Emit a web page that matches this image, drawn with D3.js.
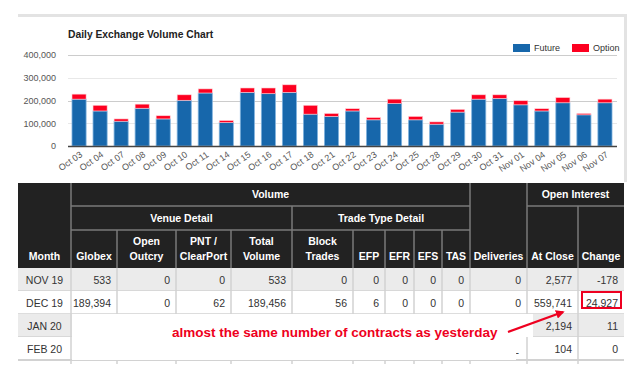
<!DOCTYPE html>
<html><head><meta charset="utf-8">
<script src="https://cdn.jsdelivr.net/npm/d3@7/dist/d3.min.js"></script>
<style>body{margin:0;background:#fff}svg{display:block;font-family:"Liberation Sans",Arial,sans-serif}</style>
</head><body><svg id="c" width="635" height="377"></svg>
<script>
const dates = ["Oct 03","Oct 04","Oct 07","Oct 08","Oct 09","Oct 10","Oct 11","Oct 14","Oct 15","Oct 16","Oct 17","Oct 18","Oct 21","Oct 22","Oct 23","Oct 24","Oct 25","Oct 28","Oct 29","Oct 30","Oct 31","Nov 01","Nov 04","Nov 05","Nov 06","Nov 07"];
const future = [206000,154000,109000,166000,119000,201000,233000,103000,236000,230000,236000,140000,130000,154000,115000,187000,115000,96000,149000,206000,209000,181000,154000,190000,137000,190000];
const option = [22000,25000,10000,18000,14000,24000,18000,9000,19000,25000,33000,39000,13000,10000,10000,19000,15000,10000,12000,19000,16000,18000,10000,23000,6000,16000];
const yTicks = [0,100000,200000,300000,400000];
const seriesNames = ["Future","Option"];
const chartTitle = "Daily Exchange Volume Chart";

const months = ["NOV 19","DEC 19","JAN 20","FEB 20"];
const globex = ["533","189,394","",""];
const openOutcry = ["0","0","",""];
const pntClearport = ["0","62","",""];
const totalVolume = ["533","189,456","",""];
const blockTrades = ["0","56","",""];
const efp = ["0","6","",""];
const efr = ["0","0","",""];
const efs = ["0","0","",""];
const tas = ["0","0","",""];
const deliveries = ["0","0","","-"];
const atClose = ["2,577","559,741","2,194","104"];
const oiChange = ["-178","24,927","11","0"];
const annotation = "almost the same number of contracts as yesterday";

const svg = d3.select("#c");
const BLUE="#1767ab", RED="#fd0020";

// frame
svg.append("rect").attr("x",18).attr("y",14).attr("width",609).attr("height",3).attr("fill","#e3e3e3");
svg.append("rect").attr("x",624).attr("y",14).attr("width",3).attr("height",168).attr("fill","#e3e3e3");

svg.append("text").attr("x",68).attr("y",38).attr("font-size",10.3).attr("font-weight","bold").attr("fill","#222").text(chartTitle);

const x = d3.scaleBand().domain(dates).range([68,616]).paddingInner(0.33).paddingOuter(0.19);
const y = d3.scaleLinear().domain([0,400000]).range([146,55]);

const g = svg.append("g");
yTicks.forEach(t=>{
  if(t===0) return;
  g.append("line").attr("x1",68).attr("x2",617).attr("y1",Math.round(y(t))+0.5).attr("y2",Math.round(y(t))+0.5)
   .attr("stroke", t%200000===0 ? "#cccccc" : "#e8e8e8");
});
const yAxis = d3.axisLeft(y).tickValues(yTicks).tickSize(0).tickPadding(6).tickFormat(d3.format(","));
const ya = svg.append("g").attr("transform","translate(62,0)").call(yAxis);
ya.select(".domain").remove();
ya.selectAll("text").attr("font-size",9).attr("fill","#555").attr("font-family","Liberation Sans, Arial");

const stack = dates.map((d,i)=>({d, f:future[i], o:option[i]}));
const bars = svg.append("g");
bars.selectAll(".f").data(stack).join("rect")
  .attr("x",d=>x(d.d)).attr("width",x.bandwidth())
  .attr("y",d=>y(d.f)).attr("height",d=>y(0)-y(d.f))
  .attr("fill",BLUE).attr("stroke","#7fb2de").attr("stroke-width",0.8);
bars.selectAll(".o").data(stack).join("rect")
  .attr("x",d=>x(d.d)).attr("width",x.bandwidth())
  .attr("y",d=>y(d.f+d.o)).attr("height",d=>y(d.f)-y(d.f+d.o))
  .attr("fill",RED).attr("stroke","#ffd0d6").attr("stroke-width",0.6);

svg.append("line").attr("x1",68).attr("x2",617).attr("y1",146.5).attr("y2",146.5).attr("stroke","#444").attr("stroke-width",1.5);

const xa = svg.append("g").attr("transform","translate(0,146)").call(d3.axisBottom(x).tickSize(0).tickPadding(0));
xa.select(".domain").remove();
xa.selectAll("text").attr("font-size",9).attr("fill","#555").attr("font-family","Liberation Sans, Arial")
  .attr("text-anchor","end").attr("dy",0).attr("y",0)
  .attr("transform","translate(4,10) rotate(-35)");

// legend
const lg = svg.append("g");
[[513,BLUE,seriesNames[0]],[572,RED,seriesNames[1]]].forEach(([lx,c,t])=>{
  lg.append("rect").attr("x",lx).attr("y",44).attr("width",17).attr("height",8).attr("fill",c);
  lg.append("text").attr("x",lx+21).attr("y",51).attr("font-size",9).attr("fill","#333").text(t);
});

// table
const cols = [18,71,117,176,231,292,353,385,414,442,470,527,578,624];
const tb = svg.append("g");
tb.append("rect").attr("x",18).attr("y",183).attr("width",606).attr("height",85).attr("fill","#222");
const hline=(x1,x2,yy,c,w)=>tb.append("line").attr("x1",x1).attr("x2",x2).attr("y1",yy).attr("y2",yy).attr("stroke",c).attr("stroke-width",w||1);
const vline=(xx,y1,y2,c,w)=>tb.append("line").attr("x1",xx).attr("x2",xx).attr("y1",y1).attr("y2",y2).attr("stroke",c).attr("stroke-width",w||1);
const HC="#7a7a7a";
hline(71,470,206,HC,1.5); hline(527,624,206,HC,1.5);
hline(71,470,230,HC,1.5);
vline(71,183,268,HC,1.5); vline(470,183,268,HC,1.5); vline(527,183,268,HC,1.5);
vline(292,206,268,HC,1.5); vline(578,206,268,HC,1.5);
[117,176,231,353,385,414,442].forEach(c=>vline(c,230,268,HC,1.5));
const ht=(t,cx,yy)=>tb.append("text").attr("x",cx).attr("y",yy).attr("text-anchor","middle").attr("font-size",10.5).attr("font-weight","bold").attr("fill","#fff").text(t);
const mid=(a,b)=>(cols[a]+cols[b])/2;
ht("Volume",mid(1,10),198);
ht("Open Interest",mid(11,13),198);
ht("Venue Detail",mid(1,5),222);
ht("Trade Type Detail",mid(5,10),222);
const h3=[["Month"],["Globex"],["Open","Outcry"],["PNT /","ClearPort"],["Total","Volume"],["Block","Trades"],["EFP"],["EFR"],["EFS"],["TAS"],["Deliveries"],["At Close"],["Change"]];
h3.forEach((ls,i)=>{
  const cx=mid(i,i+1);
  if(ls.length===1) ht(ls[0],cx,260);
  else { ht(ls[0],cx,245); ht(ls[1],cx,260); }
});

const rowsData = months.map((m,i)=>[m,globex[i],openOutcry[i],pntClearport[i],totalVolume[i],blockTrades[i],efp[i],efr[i],efs[i],tas[i],deliveries[i],atClose[i],oiChange[i]]);
const rowY=[268,291,314,337,360];
rowsData.forEach((r,ri)=>{
  const y0=rowY[ri], y1=rowY[ri+1];
  tb.append("rect").attr("x",18).attr("y",y0).attr("width",606).attr("height",y1-y0).attr("fill",ri%2===0?"#ebebeb":"#fff");
  cols.slice(1,-1).forEach(c=>vline(c,y0,y1,"#d2d2d2",1.5));
  hline(18,624,y1,"#d2d2d2",1.5);
  r.forEach((v,ci)=>{
    if(v==="") return;
    const t=tb.append("text").attr("y",y0+16).attr("font-size",10.5).attr("fill","#333").text(v);
    if(ci===0) t.attr("x",mid(0,1)).attr("text-anchor","middle");
    else t.attr("x",cols[ci+1]-6).attr("text-anchor","end");
    if(v==="-") t.attr("y",y0+19).attr("x",cols[ci+1]-8);
  });
});
// partial next row
hline(18,624,360,"#d2d2d2",2);
cols.slice(1,-1).forEach(c=>vline(c,360,364,"#d2d2d2",1.5));

// overlay & annotation
svg.append("path").attr("d","M72,314H533V337H516V360H72Z").attr("fill","#fff");
svg.append("text").attr("x",172).attr("y",337).attr("font-size",13.5).attr("font-weight","bold").attr("fill","#ee0020").text(annotation);
svg.append("defs").append("marker").attr("id","ah").attr("viewBox","0 0 10 10").attr("refX",8).attr("refY",5)
  .attr("markerWidth",4).attr("markerHeight",4).attr("orient","auto")
  .append("path").attr("d","M0,0L10,5L0,10Z").attr("fill","#ee0020");
svg.append("line").attr("x1",508).attr("y1",332).attr("x2",563).attr("y2",312).attr("stroke","#ee0020").attr("stroke-width",2.2).attr("marker-end","url(#ah)");
svg.append("rect").attr("x",582).attr("y",292).attr("width",39).attr("height",16).attr("fill","none").attr("stroke","#ee0020").attr("stroke-width",2);
</script></body></html>
